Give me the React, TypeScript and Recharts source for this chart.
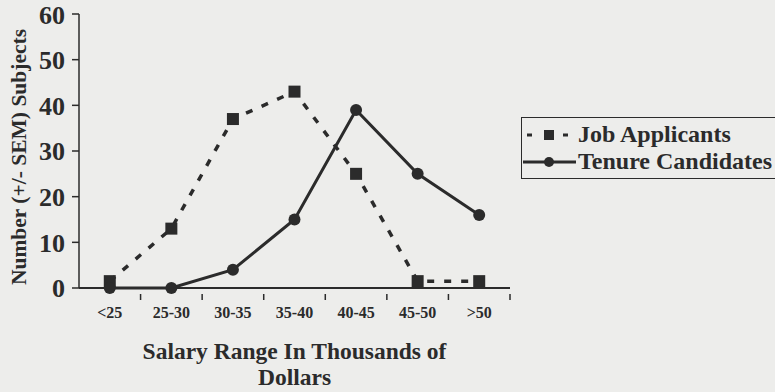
import { LineChart, Line, XAxis, YAxis } from "recharts";

const categories = ["<25", "25-30", "30-35", "35-40", "40-45", "45-50", ">50"];
const jobApplicants = [1.5, 13, 37, 43, 25, 1.5, 1.5];
const tenureCandidates = [0, 0, 4, 15, 39, 25, 16];
const yTicks = [0, 10, 20, 30, 40, 50, 60];

const data = categories.map((c, i) => ({
  range: c,
  job: jobApplicants[i],
  tenure: tenureCandidates[i],
}));

const ink = "#2b2b2b";
const font = "'Liberation Serif', 'Times New Roman', serif";

const Square = (props: any) => {
  const { cx, cy } = props;
  return <rect x={cx - 6} y={cy - 6} width={12} height={12} fill={ink} />;
};

const Dot = (props: any) => {
  const { cx, cy } = props;
  return <circle cx={cx} cy={cy} r={6} fill={ink} />;
};

// category label at band centre, tick mark at the band's right boundary
const CatTick = (props: any) => {
  const { x, y, payload } = props;
  const half = payload && payload.offset ? payload.offset : 30.8;
  return (
    <g>
      <line x1={x + half} y1={y - 2} x2={x + half} y2={y + 4} stroke={ink} strokeWidth={1.5} />
      <text x={x} y={y + 22} textAnchor="middle" fontFamily={font} fontWeight="bold" fontSize={16} fill={ink}>
        {payload.value}
      </text>
    </g>
  );
};

const LegendBox = () => (
  <div
    style={{
      position: "absolute",
      left: 521,
      top: 117,
      height: 62,
      border: `1.5px solid ${ink}`,
      borderRight: "none",
      fontFamily: font,
      fontWeight: "bold",
      fontSize: 24,
      color: ink,
      lineHeight: "27px",
      width: 254,
      boxSizing: "border-box",
      whiteSpace: "nowrap",
      overflow: "hidden",
    }}
  >
    <div style={{ display: "flex", alignItems: "center", marginTop: 3 }}>
      <svg width={56} height={20}>
        <rect x={5} y={8.5} width={5} height={3} fill={ink} />
        <rect x={22} y={5} width={10} height={10} fill={ink} />
        <rect x={41} y={8.5} width={5} height={3} fill={ink} />
      </svg>
      <span>Job Applicants</span>
    </div>
    <div style={{ display: "flex", alignItems: "center" }}>
      <svg width={56} height={20}>
        <line x1={1} y1={10} x2={54} y2={10} stroke={ink} strokeWidth={3} />
        <circle cx={27} cy={10} r={5} fill={ink} />
      </svg>
      <span>Tenure Candidates</span>
    </div>
  </div>
);

const XTitle = (props: any) => {
  const { viewBox } = props;
  const cx = viewBox.x + viewBox.width / 2;
  return (
    <text x={cx} textAnchor="middle" fontFamily={font} fontWeight="bold" fontSize={23.5} fill={ink}>
      <tspan x={cx} y={359}>Salary Range In Thousands of</tspan>
      <tspan x={cx} y={385}>Dollars</tspan>
    </text>
  );
};

const YTitle = (props: any) => {
  const { viewBox } = props;
  const cy = viewBox.y + viewBox.height / 2 + 6;
  return (
    <text
      x={19}
      y={cy}
      transform={`rotate(-90 19 ${cy})`}
      textAnchor="middle"
      dominantBaseline="central"
      fontFamily={font}
      fontWeight="bold"
      fontSize={21.5}
      fill={ink}
    >
      Number (+/- SEM) Subjects
    </text>
  );
};

export default function App() {
  return (
    <div style={{ position: "absolute", left: 0, top: 0, width: 775, height: 392, background: "#ededeb" }}>
      <LineChart width={775} height={392} data={data} margin={{ top: 14, right: 265, bottom: 0, left: 0 }}>
        <XAxis
          dataKey="range"
          scale="band"
          height={104}
          interval={0}
          tickLine={false}
          axisLine={{ stroke: ink, strokeWidth: 2 }}
          tick={<CatTick />}
          label={<XTitle />}
        />
        <YAxis
          width={79}
          domain={[0, 60]}
          ticks={yTicks}
          tickSize={7}
          axisLine={{ stroke: ink, strokeWidth: 1.5 }}
          tickLine={{ stroke: ink, strokeWidth: 1.5 }}
          tick={{ fill: ink, fontFamily: font, fontWeight: "bold", fontSize: 26, dx: -5 }}
          label={<YTitle />}
        />
        <Line
          dataKey="job"
          stroke={ink}
          strokeWidth={3.5}
          strokeDasharray="7 10"
          dot={<Square />}
          isAnimationActive={false}
        />
        <Line
          dataKey="tenure"
          stroke={ink}
          strokeWidth={3}
          dot={<Dot />}
          isAnimationActive={false}
        />
      </LineChart>
      <LegendBox />
    </div>
  );
}
